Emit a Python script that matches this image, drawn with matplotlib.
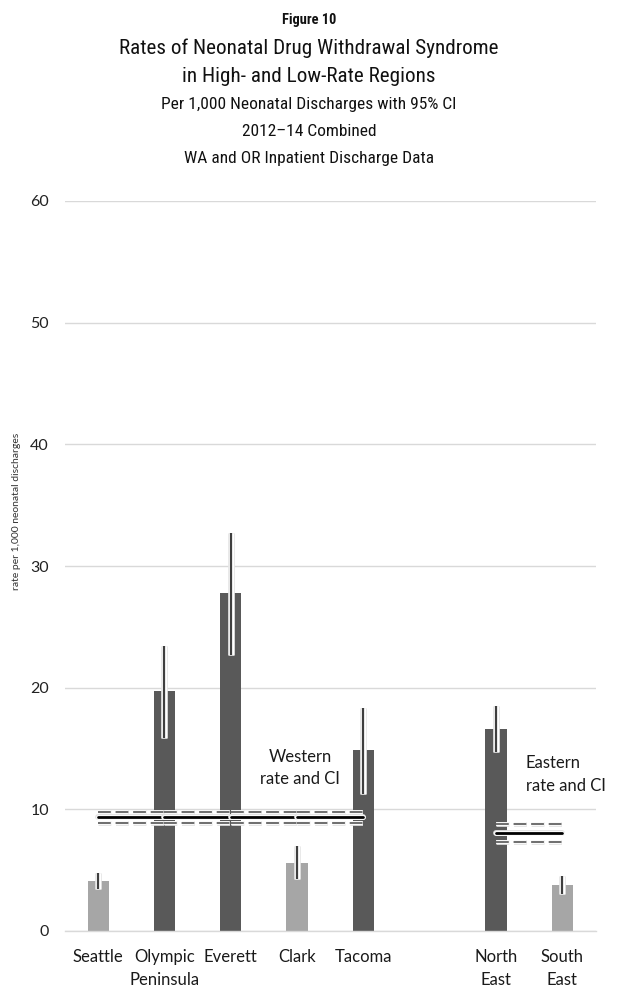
import matplotlib
matplotlib.use("Agg")
import matplotlib.pyplot as plt
import matplotlib.patheffects as pe
from matplotlib import font_manager

# Regional data (rate per 1,000 neonatal discharges, 95% CI)
categories = ["Seattle", "Olympic\nPeninsula", "Everett", "Clark", "Tacoma", "", "North\nEast", "South\nEast"]
rates = [4.1, 19.7, 27.75, 5.6, 14.9, None, 16.6, 3.8]
ci_low = [3.45, 15.9, 22.7, 4.25, 11.3, None, 14.7, 3.05]
ci_high = [4.8, 23.45, 32.75, 7.0, 18.3, None, 18.5, 4.5]
rate_group = ["low", "high", "high", "low", "high", None, "high", "low"]

western_rate, western_lo, western_hi = 9.37, 8.9, 9.8
eastern_rate, eastern_lo, eastern_hi = 8.05, 7.35, 8.78
western_span = [0, 1, 2, 3, 4]
eastern_span = [6, 7]

yticks = [0, 10, 20, 30, 40, 50, 60]

title_lines = [
    "Figure 10",
    "Rates of Neonatal Drug Withdrawal Syndrome",
    "in High- and Low-Rate Regions",
    "Per 1,000 Neonatal Discharges with 95% CI",
    "2012\u201314 Combined",
    "WA and OR Inpatient Discharge Data",
]


def find_narrow_font(bold=False):
    """Pick a condensed sans face for the title block if one is installed."""
    prefs = ["Liberation Sans Narrow", "Roboto Condensed", "Open Sans Condensed",
             "Noto Sans", "DejaVu Sans", "Open Sans", "Roboto"]
    cands = []
    for f in font_manager.fontManager.ttflist:
        stretch = f.stretch if isinstance(f.stretch, str) else str(f.stretch)
        narrow = ("Narrow" in f.name or "Condensed" in f.name or "Condensed" in f.fname
                  or "Narrow" in f.fname or stretch in ("condensed", "semi-condensed", "extra-condensed"))
        if not narrow or f.style != "normal" or "Extra" in f.fname or "Semi" in f.fname:
            continue
        w = f.weight if isinstance(f.weight, int) else font_manager.weight_dict.get(f.weight, 400)
        if bold and w < 600:
            continue
        if not bold and w != 400:
            continue
        rank = next((i for i, p in enumerate(prefs) if f.name.startswith(p)), len(prefs))
        cands.append((rank, f.fname))
    if cands:
        return font_manager.FontProperties(fname=sorted(cands)[0][1])
    return font_manager.FontProperties(family=["Liberation Sans", "DejaVu Sans"],
                                       weight="bold" if bold else "normal")


body_font = ["Lato", "DejaVu Sans"]
DARK = "#595959"
LIGHT = "#a6a6a6"
GRID = "#d9d9d9"

fig = plt.figure(figsize=(6.18, 9.9), dpi=100)
ax = fig.add_axes([65 / 618, 1 - 931 / 990, 530.5 / 618, 730 / 990])

x = list(range(len(categories)))
outline = [pe.Stroke(linewidth=4.8, foreground="#e2e2e2"),
           pe.Stroke(linewidth=3.8, foreground="white"), pe.Normal()]

for i, (r, g) in enumerate(zip(rates, rate_group)):
    if r is None:
        continue
    ax.bar(i, r, width=0.32, color=DARK if g == "high" else LIGHT, zorder=2)
    ax.vlines(i, ci_low[i], ci_high[i], color="#3f3f3f", lw=1.6, zorder=4,
              path_effects=outline, capstyle="butt")


def region_band(span, rate, lo, hi):
    for a, b in zip(span[:-1], span[1:]):
        for v in (lo, hi):
            ax.plot([a, b], [v, v], color="#4d4d4d", lw=1.15, dashes=(8, 3), zorder=5,
                    path_effects=[pe.Stroke(linewidth=3.4, foreground="#e2e2e2"),
                                  pe.Stroke(linewidth=2.6, foreground="white"), pe.Normal()])
        ax.plot([a, b], [rate, rate], color="black", lw=2.0, zorder=6,
                solid_capstyle="round",
                path_effects=[pe.Stroke(linewidth=4.2, foreground="#e2e2e2"),
                              pe.Stroke(linewidth=3.4, foreground="white"), pe.Normal()])


region_band(western_span, western_rate, western_lo, western_hi)
region_band(eastern_span, eastern_rate, eastern_lo, eastern_hi)

ax.text(3.05, 13.4, "Western\nrate and CI", ha="center", va="center",
        fontsize=12, family=body_font, color="#1a1a1a", linespacing=1.5)
ax.text(6.45, 12.85, "Eastern\nrate and CI", ha="left", va="center",
        fontsize=12, family=body_font, color="#1a1a1a", linespacing=1.5)

ax.set_xlim(-0.5, 7.5)
ax.set_ylim(0, 60)
ax.set_yticks(yticks)
ax.set_yticklabels([str(t) for t in yticks], family=body_font, fontsize=11.5, color="#222222")
ax.set_xticks(x)
ax.set_xticklabels(categories, family=body_font, fontsize=12, color="#1a1a1a", linespacing=1.5)
ax.tick_params(axis="both", length=0)
ax.tick_params(axis="y", pad=11.5)
ax.tick_params(axis="x", pad=13)
ax.grid(axis="y", color=GRID, lw=1.0, zorder=0)
ax.set_axisbelow(True)
for side in ("top", "right", "left"):
    ax.spines[side].set_visible(False)
ax.spines["bottom"].set_color(GRID)
ax.spines["bottom"].set_linewidth(1.0)

fig.text(17 / 618, 1 - 511 / 990, "rate per 1,000 neonatal discharges", rotation=90,
         ha="center", va="center", fontsize=7.5, family=body_font, color="#333333")

# Title block: narrow face, sized so the long line spans about 377 px
reg_fp = find_narrow_font(False)
bold_fp = find_narrow_font(True)
title_rows = [(20, 11.5, bold_fp), (48, 17, reg_fp), (77, 17, reg_fp),
              (104, 14, reg_fp), (131, 14, reg_fp), (158, 14, reg_fp)]
renderer = fig.canvas.get_renderer()
probe = fig.text(0, 0, title_lines[1], fontproperties=reg_fp.copy(), fontsize=17)
scale = 380 / probe.get_window_extent(renderer).width
probe.remove()
scale = min(scale, 1.0)
for text, (ypix, size, fp) in zip(title_lines, title_rows):
    fig.text(0.5, 1 - ypix / 990, text, ha="center", va="center",
             fontproperties=fp, fontsize=size * scale, color="#111111")

fig.savefig("out.png", dpi=100, facecolor="white")
